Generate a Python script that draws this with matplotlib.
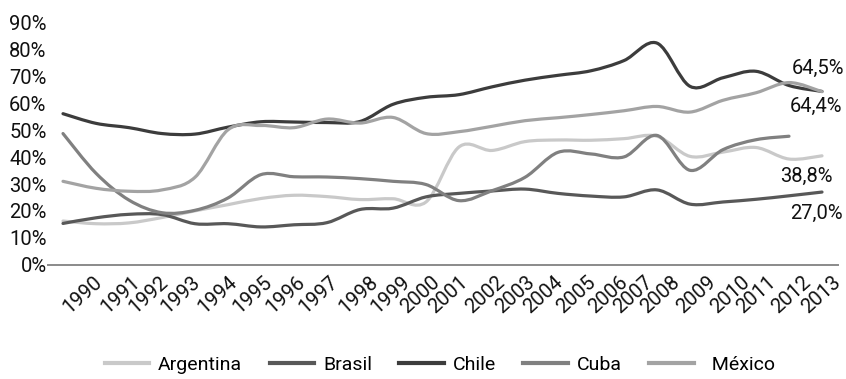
import numpy as np
import matplotlib
matplotlib.use("Agg")
import matplotlib.pyplot as plt
from matplotlib.path import Path
from matplotlib.patches import PathPatch
from matplotlib.lines import Line2D

plt.rcParams['font.family'] = ['Roboto', 'DejaVu Sans']
SIZE = 14.5
LEG_SIZE = 14

# ---------------- data ----------------
years = list(range(1990, 2014))
argentina = [16.2, 15.2, 15.5, 17.5, 20.0, 22.3, 24.6, 25.8, 25.3, 24.2, 24.5, 23.3,
             43.8, 42.5, 45.8, 46.4, 46.3, 46.9, 47.8, 40.3, 41.9, 43.6, 39.3, 40.5]
brasil = [15.3, 17.4, 18.7, 18.6, 15.2, 15.2, 14.0, 14.8, 15.6, 20.5, 21.0, 25.2,
          26.5, 27.4, 28.1, 26.5, 25.5, 25.2, 27.8, 22.5, 23.3, 24.3, 25.6, 27.0]
chile = [56.2, 52.6, 51.0, 48.8, 48.6, 51.2, 53.2, 53.1, 52.9, 53.3, 59.7, 62.3,
         63.3, 66.2, 68.7, 70.5, 72.2, 76.0, 82.5, 66.4, 69.6, 72.0, 66.7, 64.5]
cuba = [48.8, 34.0, 24.0, 19.3, 20.2, 24.8, 33.5, 32.7, 32.6, 32.0, 31.0, 29.8,
        23.8, 27.5, 32.5, 41.8, 41.2, 40.1, 48.1, 35.1, 42.8, 46.5, 47.8, None]
mexico = [31.0, 28.4, 27.3, 27.8, 32.5, 50.2, 51.8, 51.0, 54.2, 52.7, 54.8, 48.8,
          49.5, 51.5, 53.6, 54.7, 55.9, 57.3, 58.9, 56.8, 61.2, 64.0, 67.8, 64.4]

series_names = ['Argentina', 'Brasil', 'Chile', 'Cuba', 'México']
series_values = [argentina, brasil, chile, cuba, mexico]
series_colors = ['#c9c9c9', '#585858', '#3c3c3c', '#808080', '#a3a3a3']

y_ticks = [0, 10, 20, 30, 40, 50, 60, 70, 80, 90]
y_tick_labels = ['0%', '10%', '20%', '30%', '40%', '50%', '60%', '70%', '80%', '90%']
x_tick_labels = [str(y) for y in years]
# where the (shifted) year labels sit along the axis, in year units
x_label_anchor = [1990.90, 1992.05, 1992.90, 1993.87, 1994.99, 1996.05, 1997.05, 1998.05,
                  1999.26, 2000.26, 2001.14, 2001.99, 2003.11, 2004.02, 2004.87, 2005.87,
                  2006.84, 2007.60, 2008.42, 2009.51, 2010.54, 2011.33, 2012.39, 2013.30]

end_labels = ['64,5%', '64,4%', '38,8%', '27,0%']
end_label_series = ['Chile', 'México', 'Argentina', 'Brasil']
end_label_offsets = [(-30, 23), (-32, -15), (-42, -21), (-32, -21)]


def smooth_path(xs, ys):
    pts = np.array([(x, y) for x, y in zip(xs, ys) if y is not None], dtype=float)
    n = len(pts)
    verts = [pts[0]]
    codes = [Path.MOVETO]
    for i in range(n - 1):
        p0 = pts[max(i - 1, 0)]
        p1 = pts[i]
        p2 = pts[i + 1]
        p3 = pts[min(i + 2, n - 1)]
        c1 = p1 + (p2 - p0) / 6.0
        c2 = p2 - (p3 - p1) / 6.0
        verts += [c1, c2, p2]
        codes += [Path.CURVE4] * 3
    return Path(verts, codes)


fig = plt.figure(figsize=(8.46, 3.79), dpi=100)
ax = fig.add_axes([48 / 846, 1 - 264.5 / 379, 790 / 846, (264.5 - 23) / 379])

for name, vals, col in zip(series_names, series_values, series_colors):
    patch = PathPatch(smooth_path(years, vals), facecolor='none', edgecolor=col,
                      linewidth=2.3, capstyle='round', joinstyle='round')
    ax.add_patch(patch)

ax.set_xlim(1990 - 15 / 33, 2013 + 16 / 33)
ax.set_ylim(0, 90)

ax.set_yticks(y_ticks)
ax.set_yticklabels(y_tick_labels, fontsize=SIZE)
ax.set_xticks(x_label_anchor)
ax.set_xticklabels(x_tick_labels, rotation=42, ha='right', va='top',
                   rotation_mode='anchor', fontsize=SIZE)
ax.tick_params(axis='both', length=0, colors='#111111')
ax.tick_params(axis='y', pad=1)
ax.tick_params(axis='x', pad=6)

for s in ['top', 'right', 'left']:
    ax.spines[s].set_visible(False)
ax.spines['bottom'].set_color('#8a8a8a')
ax.spines['bottom'].set_linewidth(1.4)

lookup = dict(zip(series_names, series_values))
for txt, sname, off in zip(end_labels, end_label_series, end_label_offsets):
    ax.annotate(txt, xy=(years[-1], lookup[sname][-1]), xytext=off,
                textcoords='offset pixels', ha='left', va='center',
                fontsize=SIZE, color='#111111')

handles = [Line2D([0], [0], color=c, linewidth=3) for c in series_colors]
labels = [n if n != 'México' else '  México' for n in series_names]
fig.legend(handles, labels, loc='center', bbox_to_anchor=(440 / 846, 1 - 365 / 379),
           ncol=5, frameon=False, fontsize=LEG_SIZE, handlelength=2.3,
           handletextpad=0.45, columnspacing=1.4)

fig.savefig('out.png', dpi=100)
